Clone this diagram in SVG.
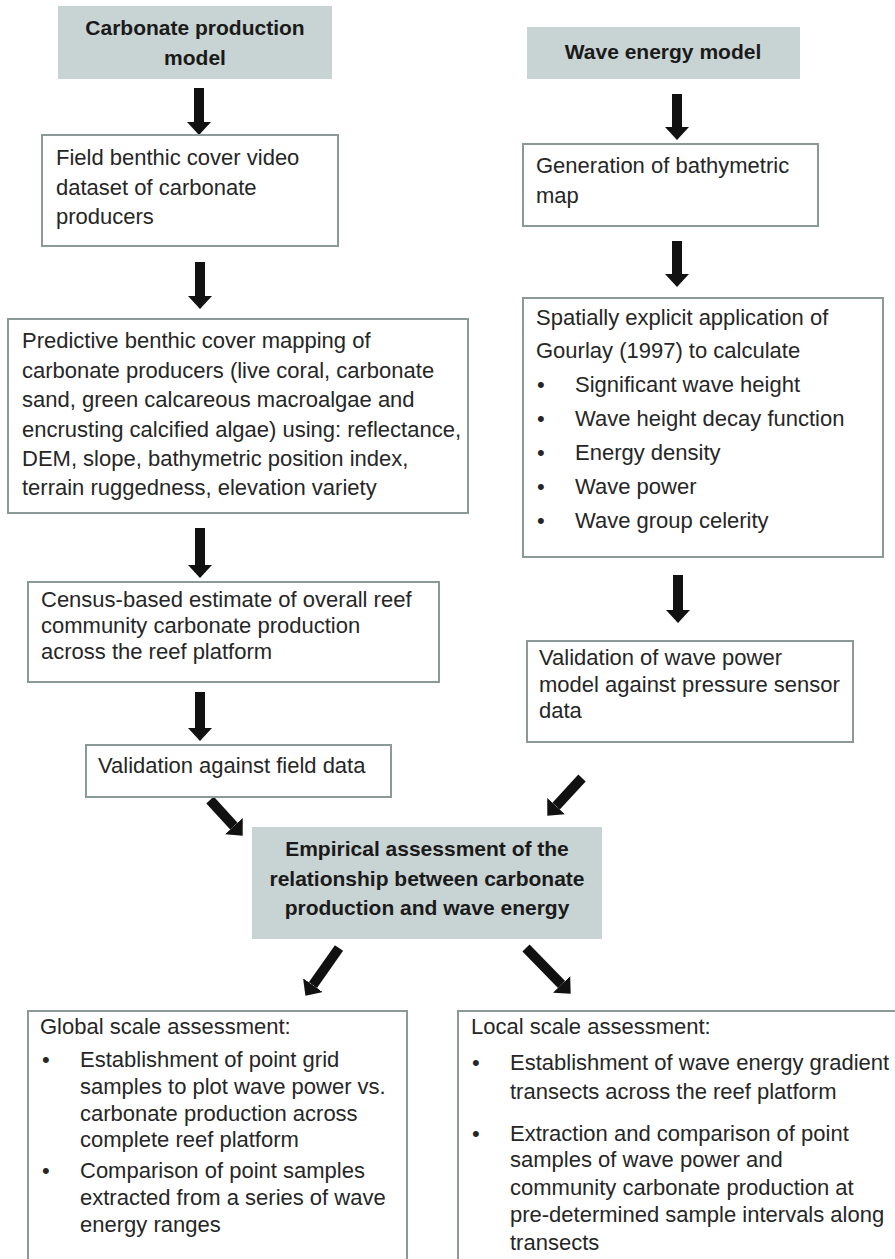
<svg xmlns="http://www.w3.org/2000/svg" width="895" height="1259" viewBox="0 0 895 1259">
<style>
.box{fill:#ffffff;stroke:#8c9999;stroke-width:2}
.hdr{fill:#c8d3d3;stroke:none}
.t{font-family:"Liberation Sans",Arial,sans-serif;font-size:22px;fill:#262626}
.b{font-family:"Liberation Sans",Arial,sans-serif;font-size:21px;font-weight:bold;fill:#1a1a1a;text-anchor:middle}
.arr{stroke:#111;stroke-width:10;fill:none;marker-end:url(#head)}
</style>
<defs>
<marker id="head" markerUnits="userSpaceOnUse" viewBox="0 0 13 24" markerWidth="13" markerHeight="24" refX="0" refY="12" orient="auto">
<path d="M0,0 L13,12 L0,24 z" fill="#111"/>
</marker>
</defs>
<rect width="895" height="1259" fill="#ffffff"/>

<g id="connectors">
<line class="arr" x1="199" y1="88" x2="199" y2="122"/>
<line class="arr" x1="200" y1="262" x2="200" y2="296"/>
<line class="arr" x1="200" y1="528" x2="200" y2="565"/>
<line class="arr" x1="200" y1="692" x2="200" y2="728"/>
<line class="arr" x1="677" y1="94" x2="677" y2="127"/>
<line class="arr" x1="677" y1="241" x2="677" y2="274"/>
<line class="arr" x1="678" y1="575" x2="678" y2="610"/>
<line class="arr" x1="210" y1="800" x2="233.9" y2="826.1"/>
<line class="arr" x1="582" y1="778" x2="556.1" y2="806.2"/>
<line class="arr" x1="339" y1="948" x2="312.9" y2="985.2"/>
<line class="arr" x1="526" y1="948" x2="561.6" y2="984.4"/>
</g>

<g id="carbonate-model">
<rect class="hdr" x="58" y="6" width="274" height="73"/>
<text class="b" x="195" y="35">Carbonate production</text>
<text class="b" x="195" y="65">model</text>
</g>

<g id="wave-model">
<rect class="hdr" x="527" y="27" width="273" height="52"/>
<text class="b" x="663" y="59">Wave energy model</text>
</g>

<g id="field-video">
<rect class="box" x="42" y="135" width="296" height="111"/>
<text class="t" x="56" y="165">Field benthic cover video</text>
<text class="t" x="56" y="195">dataset of carbonate</text>
<text class="t" x="56" y="224">producers</text>
</g>

<g id="bathymetric-map">
<rect class="box" x="523" y="144" width="295" height="82"/>
<text class="t" x="536" y="173">Generation of bathymetric</text>
<text class="t" x="536" y="203">map</text>
</g>

<g id="predictive-mapping">
<rect class="box" x="8" y="319" width="460" height="194"/>
<text class="t" x="22" y="348">Predictive benthic cover mapping of</text>
<text class="t" x="22" y="377.5">carbonate producers (live coral, carbonate</text>
<text class="t" x="22" y="407">sand, green calcareous macroalgae and</text>
<text class="t" x="22" y="436.5">encrusting calcified algae) using: reflectance,</text>
<text class="t" x="22" y="466">DEM, slope, bathymetric position index,</text>
<text class="t" x="22" y="495">terrain ruggedness, elevation variety</text>
</g>

<g id="gourlay">
<rect class="box" x="523" y="298" width="360" height="259"/>
<text class="t" x="536" y="325">Spatially explicit application of</text>
<text class="t" x="536" y="358">Gourlay (1997) to calculate</text>
<text class="t" x="537" y="392">•</text><text class="t" x="575" y="392">Significant wave height</text>
<text class="t" x="537" y="426">•</text><text class="t" x="575" y="426">Wave height decay function</text>
<text class="t" x="537" y="460">•</text><text class="t" x="575" y="460">Energy density</text>
<text class="t" x="537" y="494">•</text><text class="t" x="575" y="494">Wave power</text>
<text class="t" x="537" y="528">•</text><text class="t" x="575" y="528">Wave group celerity</text>
</g>

<g id="census">
<rect class="box" x="28" y="582" width="411" height="100"/>
<text class="t" x="41" y="607">Census-based estimate of overall reef</text>
<text class="t" x="41" y="633">community carbonate production</text>
<text class="t" x="41" y="659">across the reef platform</text>
</g>

<g id="wave-validation">
<rect class="box" x="527" y="641" width="326" height="101"/>
<text class="t" x="539" y="665">Validation of wave power</text>
<text class="t" x="539" y="692">model against pressure sensor</text>
<text class="t" x="539" y="718">data</text>
</g>

<g id="field-validation">
<rect class="box" x="86" y="745" width="305" height="52"/>
<text class="t" x="98" y="773">Validation against field data</text>
</g>

<g id="empirical">
<rect class="hdr" x="252" y="827" width="350" height="112"/>
<text class="b" x="427" y="856">Empirical assessment of the</text>
<text class="b" x="427" y="886">relationship between carbonate</text>
<text class="b" x="427" y="915">production and wave energy</text>
</g>

<g id="global-scale">
<rect class="box" x="28" y="1011" width="379" height="260"/>
<text class="t" x="40" y="1034">Global scale assessment:</text>
<text class="t" x="42" y="1067">•</text><text class="t" x="80" y="1067">Establishment of point grid</text>
<text class="t" x="80" y="1094">samples to plot wave power vs.</text>
<text class="t" x="80" y="1121">carbonate production across</text>
<text class="t" x="80" y="1147">complete reef platform</text>
<text class="t" x="42" y="1178">•</text><text class="t" x="80" y="1178">Comparison of point samples</text>
<text class="t" x="80" y="1205">extracted from a series of wave</text>
<text class="t" x="80" y="1232">energy ranges</text>
</g>

<g id="local-scale">
<rect class="box" x="458" y="1011" width="450" height="260"/>
<text class="t" x="471" y="1034">Local scale assessment:</text>
<text class="t" x="472" y="1070">•</text><text class="t" x="510" y="1070">Establishment of wave energy gradient</text>
<text class="t" x="510" y="1099">transects across the reef platform</text>
<text class="t" x="472" y="1141">•</text><text class="t" x="510" y="1141">Extraction and comparison of point</text>
<text class="t" x="510" y="1167">samples of wave power and</text>
<text class="t" x="510" y="1195">community carbonate production at</text>
<text class="t" x="510" y="1222">pre-determined sample intervals along</text>
<text class="t" x="510" y="1250">transects</text>
</g>
</svg>
